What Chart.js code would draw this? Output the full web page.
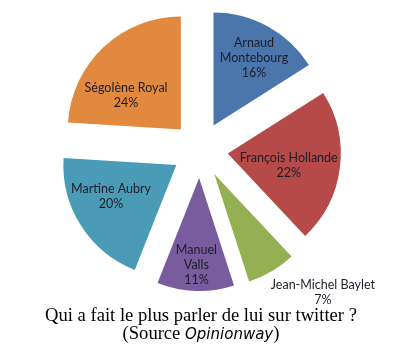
<!DOCTYPE html>
<html>
<head>
<meta charset="utf-8">
<script src="https://cdn.jsdelivr.net/npm/chart.js@4"></script>
<style>
  html, body { margin: 0; padding: 0; background: #fff; }
  #wrap { position: relative; width: 400px; height: 350px; }
  #chart { position: absolute; left: 0; top: 0; }
  #caption {
    position: absolute; left: 0; top: 306px; width: 402px;
    text-align: center; font-family: "Liberation Serif", serif;
    font-size: 18.6px; line-height: 18px; color: #000;
  }
  #caption i { font-family: "DejaVu Sans", sans-serif; font-size: 15px; font-weight: 300; }
</style>
</head>
<body>
<div id="wrap">
  <canvas id="chart" width="400" height="350"></canvas>
  <div id="caption">Qui a fait le plus parler de lui sur twitter ?<br>(Source <i>Opinionway</i>)</div>
</div>
<script>
const names = [
  ["Arnaud", "Montebourg"],
  ["François Hollande"],
  ["Jean-Michel Baylet"],
  ["Manuel", "Valls"],
  ["Martine Aubry"],
  ["Ségolène Royal"]
];
const shares = [16, 22, 7, 11, 20, 24];
const colours = ["#4A76AC", "#B54A48", "#93B052", "#785C9E", "#4A9CB6", "#E0893F"];

// where each label sits: fraction of radius from the slice tip, angle nudge (deg)
const labelPlace = [[0.70, 2], [0.55, 4], [1.42, -12], [0.77, 0], [0.64, 7], [0.57, -15]];

const EXPLODE = 28;

// draw every arc pushed out along its mid angle
const explodePie = {
  id: 'explodePie',
  beforeDatasetDraw(chart, args) {
    const ctx = chart.ctx;
    args.meta.data.forEach((arc) => {
      const mid = (arc.startAngle + arc.endAngle) / 2;
      ctx.save();
      ctx.translate(Math.cos(mid) * EXPLODE, Math.sin(mid) * EXPLODE);
      arc.draw(ctx);
      ctx.restore();
    });
    return false;
  },
  afterDatasetsDraw(chart) {
    const ctx = chart.ctx;
    const arcs = chart.getDatasetMeta(0).data;
    ctx.save();
    ctx.font = '12.5px Lato, "Open Sans", sans-serif';
    ctx.fillStyle = '#1e1e2a';
    ctx.textAlign = 'center';
    ctx.textBaseline = 'middle';
    arcs.forEach((arc, i) => {
      const mid = (arc.startAngle + arc.endAngle) / 2;
      const tipX = arc.x + Math.cos(mid) * EXPLODE;
      const tipY = arc.y + Math.sin(mid) * EXPLODE;
      const a = mid + labelPlace[i][1] * Math.PI / 180;
      const r = arc.outerRadius * labelPlace[i][0];
      const cx = tipX + Math.cos(a) * r;
      const cy = tipY + Math.sin(a) * r;
      const lines = names[i].concat([shares[i] + '%']);
      const lh = 15;
      lines.forEach((t, k) => {
        ctx.fillText(t, cx, cy + (k - (lines.length - 1) / 2) * lh);
      });
    });
    ctx.restore();
  }
};

new Chart(document.getElementById('chart'), {
  type: 'pie',
  data: {
    labels: names.map(n => n.join(' ')),
    datasets: [{
      data: shares,
      backgroundColor: colours,
      borderWidth: 0,
      radius: 113
    }]
  },
  options: {
    responsive: false,
    animation: false,
    layout: { padding: { bottom: 50 } },
    plugins: {
      legend: { display: false },
      tooltip: { enabled: false }
    }
  },
  plugins: [explodePie]
});
</script>
</body>
</html>
